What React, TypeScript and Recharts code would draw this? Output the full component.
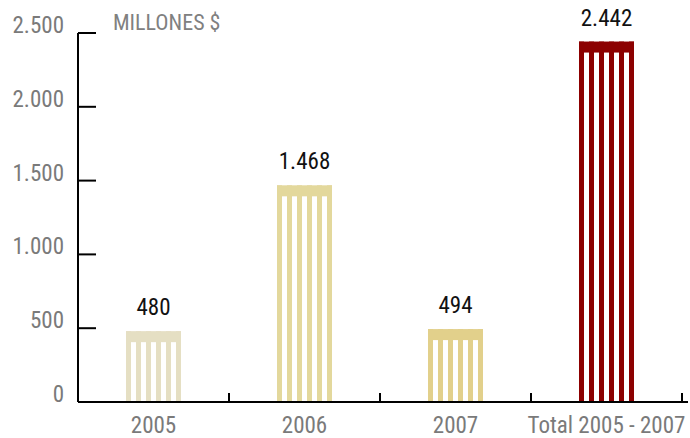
import React from "react";
import { BarChart, Bar, XAxis, YAxis, LabelList, Cell } from "recharts";

const categories = ["2005", "2006", "2007", "Total 2005 - 2007"];
const amounts = [480, 1468, 494, 2442];
const barColors = ["#e5dfc3", "#e3d89c", "#e2d08b", "#8c0000"];
const yTicks = [0, 500, 1000, 1500, 2000, 2500];

const data = categories.map((name, i) => ({ name, value: amounts[i] }));

const FONT = "'Liberation Sans Narrow', 'Roboto Condensed', 'Liberation Sans', sans-serif";
const W = 690;
const H = 438;
const LEFT = 78;
const RIGHT = 2;
const PAD_R = 6;
const halfBand = (W - LEFT - RIGHT - PAD_R) / categories.length / 2;

const fmt = (v: number) => String(v).replace(/\B(?=(\d{3})+(?!\d))/g, ".");

const StripedBar = (props: any) => {
  const { x, y, width, height, fill } = props;
  if (!height) return null;
  const n = 11;
  const sw = width / n;
  const top = Math.min(11, height);
  const stripes = [];
  for (let i = 0; i < n; i += 2) {
    stripes.push(<rect key={i} x={x + i * sw} y={y} width={sw} height={height} fill={fill} />);
  }
  return (
    <g>
      <rect x={x} y={y} width={width} height={top} fill={fill} />
      {stripes}
    </g>
  );
};

const YTick = (props: any) => {
  const { x, y, payload } = props;
  return (
    <g>
      <line x1={LEFT} x2={LEFT + 18} y1={y} y2={y} stroke="#000" strokeWidth={2} />
      <text x={x} y={y} textAnchor="end" fill="#7a7a7a" fontSize={23} fontFamily={FONT}>
        {fmt(payload.value)}
      </text>
    </g>
  );
};

const XTick = (props: any) => {
  const { x, y, payload } = props;
  return (
    <g>
      <line x1={x + halfBand} x2={x + halfBand} y1={y} y2={y - 9} stroke="#000" strokeWidth={2} />
      <text x={x} y={y + 31} textAnchor="middle" fill="#7a7a7a" fontSize={23} fontFamily={FONT}>
        {payload.value}
      </text>
    </g>
  );
};

export default function App() {
  return (
    <div style={{ position: "fixed", left: 0, top: 0, width: W, height: H, background: "#fff" }}>
      <BarChart width={W} height={H} data={data} margin={{ top: 33, right: RIGHT, left: 0, bottom: 0 }}>
        <XAxis
          dataKey="name"
          height={36}
          tickLine={false}
          tickSize={0}
          tickMargin={0}
          axisLine={{ stroke: "#000", strokeWidth: 2 }}
          padding={{ left: 0, right: PAD_R }}
          tick={<XTick />}
          interval={0}
        />
        <YAxis
          width={LEFT}
          domain={[0, 2500]}
          ticks={yTicks}
          tickLine={false}
          tickSize={0}
          tickMargin={14}
          axisLine={{ stroke: "#000", strokeWidth: 2 }}
          tick={<YTick />}
          interval={0}
        />
        <Bar dataKey="value" barSize={55} shape={<StripedBar />} isAnimationActive={false}>
          {data.map((d, i) => (
            <Cell key={d.name} fill={barColors[i]} />
          ))}
          <LabelList
            dataKey="value"
            position="top"
            offset={16}
            formatter={(v: any) => fmt(Number(v))}
            fill="#111"
            fontSize={23}
            fontFamily={FONT}
          />
        </Bar>
        <text x={113} y={30} fill="#808080" fontSize={22} fontFamily={FONT}>
          MILLONES $
        </text>
      </BarChart>
    </div>
  );
}
